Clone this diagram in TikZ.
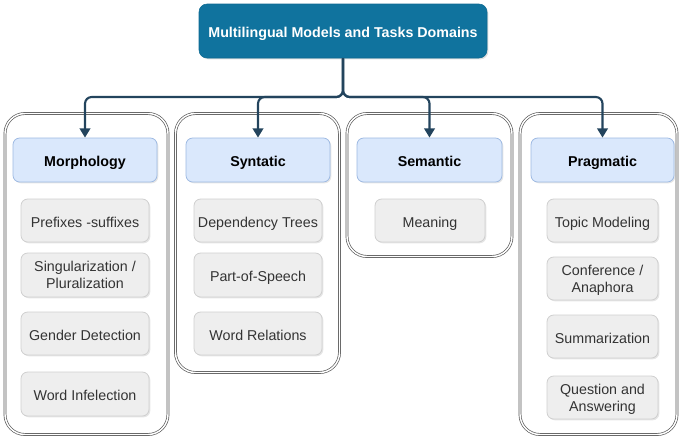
\documentclass[tikz,border=0pt]{standalone}
\usepackage{fontspec}
\setmainfont{Liberation Sans}
\usetikzlibrary{arrows.meta,shadows}
\definecolor{titlefill}{HTML}{10739E}
\definecolor{titledraw}{HTML}{0E6A92}
\definecolor{headfill}{HTML}{DAE8FC}
\definecolor{headdraw}{HTML}{9DB9E2}
\definecolor{itemfill}{HTML}{EEEEEE}
\definecolor{itemdraw}{HTML}{CFCFCF}
\definecolor{itemtext}{HTML}{333333}
\definecolor{conncol}{HTML}{23445D}
\definecolor{contdraw}{HTML}{555555}
\tikzset{
  wh/.style 2 args={minimum width=#1*0.75pt, minimum height=#2*0.75pt},
  base/.style={inner sep=0pt, align=center, font=\fontsize{10.7pt}{13pt}\selectfont},
  oneline/.style={text height=10.2pt, text depth=0pt},
  twoline/.style={text depth=-3.5pt},
  titlebox/.style={base, oneline, fill=titlefill, draw=titledraw, rounded corners=6pt, text=white, font=\fontsize{10.7pt}{13pt}\selectfont\bfseries, drop shadow={opacity=0.25, shadow xshift=1pt, shadow yshift=-1pt}},
  headbox/.style={base, oneline, fill=headfill, draw=headdraw, line width=0.6pt, rounded corners=5pt, font=\fontsize{10.7pt}{13pt}\selectfont\bfseries, drop shadow={opacity=0.2, shadow xshift=1pt, shadow yshift=-1pt}},
  itembox/.style={base, fill=itemfill, draw=itemdraw, line width=0.6pt, rounded corners=5pt, text=itemtext, drop shadow={opacity=0.2, shadow xshift=1pt, shadow yshift=-1pt}},
  contbox/.style={inner sep=0pt, draw=contdraw, double=white, double distance=1.1pt, line width=0.5pt, rounded corners=15pt},
  conn/.style={draw=conncol, line width=1.6pt, rounded corners=5pt, -{Triangle[length=7pt,width=8pt]}},
}
\begin{document}
\begin{tikzpicture}[x=0.75pt,y=-0.75pt]
\useasboundingbox (0,0) rectangle (680,436);
% containers
\node[contbox, wh={163}{321}] (c1) at (86.5,274) {};
\node[contbox, wh={164}{259}] (c2) at (257.5,243) {};
\node[contbox, wh={165}{143}] (c3) at (429.5,185) {};
\node[contbox, wh={157}{321}] (c4) at (598.5,274) {};
% title
\node[titlebox, wh={288}{54}] (title) at (343,31) {Multilingual Models and Tasks Domains};
% headers
\node[headbox, wh={144}{44}] (h1) at (85,160) {Morphology};
\node[headbox, wh={144}{44}] (h2) at (258,160) {Syntatic};
\node[headbox, wh={145}{44}] (h3) at (429.5,160) {Semantic};
\node[headbox, wh={143}{44}] (h4) at (602.5,160) {Pragmatic};
% morphology items
\node[itembox, oneline, wh={128}{43}] (m1) at (85,220.5) {Prefixes -suffixes};
\node[itembox, twoline, wh={128}{44}] (m2) at (85,275) {Singularization /\\Pluralization};
\node[itembox, oneline, wh={128}{43}] (m3) at (85,333.5) {Gender Detection};
\node[itembox, oneline, wh={128}{44}] (m4) at (85,394) {Word Infelection};
% syntactic items
\node[itembox, oneline, wh={128}{43}] (s1) at (258,220.5) {Dependency Trees};
\node[itembox, oneline, wh={128}{44}] (s2) at (258,275) {Part-of-Speech};
\node[itembox, oneline, wh={128}{43}] (s3) at (258,333.5) {Word Relations};
% semantic items
\node[itembox, oneline, wh={110}{43}] (e1) at (430,220.5) {Meaning};
% pragmatic items
\node[itembox, oneline, wh={111}{43}] (p1) at (602.5,220.5) {Topic Modeling};
\node[itembox, twoline, wh={111}{43}] (p2) at (602.5,278.5) {Conference /\\Anaphora};
\node[itembox, oneline, wh={111}{43}] (p3) at (602.5,336.5) {Summarization};
\node[itembox, twoline, wh={111}{43}] (p4) at (602.5,397.5) {Question and\\Answering};
% connectors
\coordinate (j) at (343,97);
\draw[conn] (title.south) -- (j) -| (h1.north);
\draw[conn] (title.south) -- (j) -| (h2.north);
\draw[conn] (title.south) -- (j) -| (h3.north);
\draw[conn] (title.south) -- (j) -| (h4.north);
\end{tikzpicture}
\end{document}
